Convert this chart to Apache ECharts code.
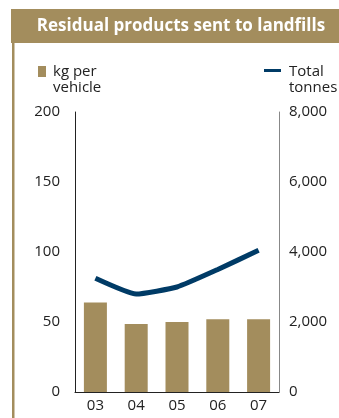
<!DOCTYPE html>
<html><head><meta charset="utf-8">
<script src="https://cdn.jsdelivr.net/npm/echarts@6/dist/echarts.min.js"></script>
<style>html,body{margin:0;padding:0;background:#fff}#c{width:339px;height:418px}</style>
</head><body><div id="c"></div>
<script>
const categories = ['03','04','05','06','07'];
const kgPerVehicle = [64, 48.5, 50, 52, 52];
const totalTonnes = [3250, 2800, 3000, 3500, 4050];
const leftTicks = [0, 50, 100, 150, 200];
const rightTicks = [0, 2000, 4000, 6000, 8000];
const titleText = 'Residual products sent to landfills';
const barName = 'kg per\nvehicle';
const lineName = 'Total\ntonnes';

const gold = '#a38d5d';
const navy = '#003b66';
const font = '"Open Sans", sans-serif';
const chart = echarts.init(document.getElementById('c'));
chart.setOption({
  animation: false,
  grid: {left: 75, right: 60, top: 112, bottom: 26},
  graphic: [
    {type: 'rect', shape: {x: 11, y: 9, width: 328, height: 34}, style: {fill: gold}},
    {type: 'rect', shape: {x: 12, y: 43, width: 2.5, height: 375}, style: {fill: gold}},
    {type: 'text', x: 181, y: 26, style: {text: titleText, fill: '#fff', font: 'bold 17px ' + font, textAlign: 'center', textVerticalAlign: 'middle'}},
    {type: 'rect', shape: {x: 38, y: 66, width: 8, height: 11}, style: {fill: gold}},
    {type: 'text', x: 53, y: 64, style: {text: barName, fill: '#222', font: '15px ' + font, lineHeight: 16, textAlign: 'left', textVerticalAlign: 'top'}},
    {type: 'rect', shape: {x: 264, y: 69, width: 17, height: 3}, style: {fill: navy}},
    {type: 'text', x: 289, y: 64, style: {text: lineName, fill: '#222', font: '15px ' + font, lineHeight: 16, textAlign: 'left', textVerticalAlign: 'top'}}
  ],
  xAxis: {
    type: 'category', data: categories,
    axisLine: {lineStyle: {color: '#222', width: 1}},
    axisTick: {show: false},
    axisLabel: {color: '#222', fontSize: 15, fontFamily: font, margin: 6}
  },
  yAxis: [
    {type: 'value', min: 0, max: 200, interval: 50, position: 'left',
     axisLine: {show: true, lineStyle: {color: '#222'}}, axisTick: {show: false}, splitLine: {show: false},
     axisLabel: {color: '#222', fontSize: 15, fontFamily: font, margin: 15}},
    {type: 'value', min: 0, max: 8000, interval: 2000, position: 'right',
     axisLine: {show: true, lineStyle: {color: '#888'}}, axisTick: {show: false}, splitLine: {show: false},
     axisLabel: {color: '#222', fontSize: 15, fontFamily: font, margin: 10,
       formatter: v => v.toLocaleString('en-US')}}
  ],
  series: [
    {type: 'bar', name: barName, data: kgPerVehicle, yAxisIndex: 0, barWidth: 23, itemStyle: {color: gold}},
    {type: 'line', name: lineName, data: totalTonnes, yAxisIndex: 1, symbol: 'none', smooth: 0.15,
     lineStyle: {color: navy, width: 5}}
  ]
});
</script></body></html>
